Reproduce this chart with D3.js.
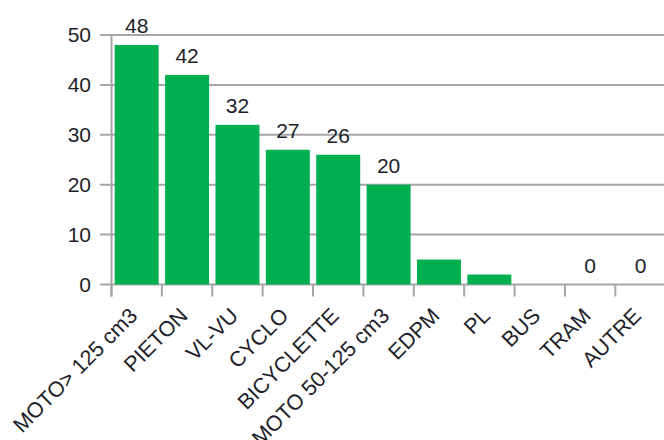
<!DOCTYPE html>
<html>
<head>
<meta charset="utf-8">
<script src="https://cdn.jsdelivr.net/npm/d3@7"></script>
<style>
  html, body { margin: 0; padding: 0; background: #fff; }
  svg { display: block; }
  text { font-family: "Liberation Sans", Arial, sans-serif; fill: #1e1e2a; }
</style>
</head>
<body>
<svg id="chart" width="664" height="440"></svg>
<script>
const categories = ["MOTO> 125 cm3", "PIETON", "VL-VU", "CYCLO", "BICYCLETTE", "MOTO 50-125 cm3", "EDPM", "PL", "BUS", "TRAM", "AUTRE"];
const values = [48, 42, 32, 27, 26, 20, 5, 2, 0, 0, 0];
const valueLabels = ["48", "42", "32", "27", "26", "20", "", "", "", "0", "0"];
const yTicks = [0, 10, 20, 30, 40, 50];

const svg = d3.select("#chart");
const plotLeft = 111.5, plotRight = 665.7, plotTop = 35, plotBottom = 284.5;

const x = d3.scaleBand().domain(categories).range([plotLeft, plotRight])
  .paddingInner(0.127).paddingOuter(0.0635);
const y = d3.scaleLinear().domain([0, 50]).range([plotBottom, plotTop]);
const gap = (x.step() - x.bandwidth()) / 2;

// gridlines
svg.append("g").selectAll("line").data(yTicks).join("line")
  .attr("x1", 100).attr("x2", 664)
  .attr("y1", d => y(d)).attr("y2", d => y(d))
  .attr("stroke", "#a6a6a6").attr("stroke-width", 2);

// y axis line
svg.append("line").attr("x1", plotLeft).attr("x2", plotLeft)
  .attr("y1", plotTop).attr("y2", plotBottom + 12)
  .attr("stroke", "#a6a6a6").attr("stroke-width", 2);

// x ticks at band boundaries
svg.append("g").selectAll("line").data(categories).join("line")
  .attr("x1", d => x(d) - gap).attr("x2", d => x(d) - gap)
  .attr("y1", plotBottom).attr("y2", plotBottom + 12)
  .attr("stroke", "#a6a6a6").attr("stroke-width", 2);

// bars
svg.append("g").selectAll("rect").data(values).join("rect")
  .attr("x", (d, i) => x(categories[i]))
  .attr("width", x.bandwidth())
  .attr("y", d => y(d))
  .attr("height", d => plotBottom - y(d))
  .attr("fill", "#00b050");

// y tick labels
svg.append("g").selectAll("text").data(yTicks).join("text")
  .attr("x", 91).attr("y", d => y(d))
  .attr("dy", "0.35em")
  .attr("text-anchor", "end")
  .attr("font-size", 21)
  .text(d => d);

// value labels
svg.append("g").selectAll("text").data(values).join("text")
  .attr("x", (d, i) => x(categories[i]) + x.bandwidth() / 2)
  .attr("y", d => y(d) - 12)
  .attr("text-anchor", "middle")
  .attr("font-size", 21)
  .text((d, i) => valueLabels[i]);

// category labels
svg.append("g").selectAll("text").data(categories).join("text")
  .attr("transform", d => `translate(${x(d) + x.bandwidth() / 2 + 2},${317}) rotate(-45)`)
  .attr("text-anchor", "end")
  .attr("font-size", 21.5)
  .text(d => d);
</script>
</body>
</html>
